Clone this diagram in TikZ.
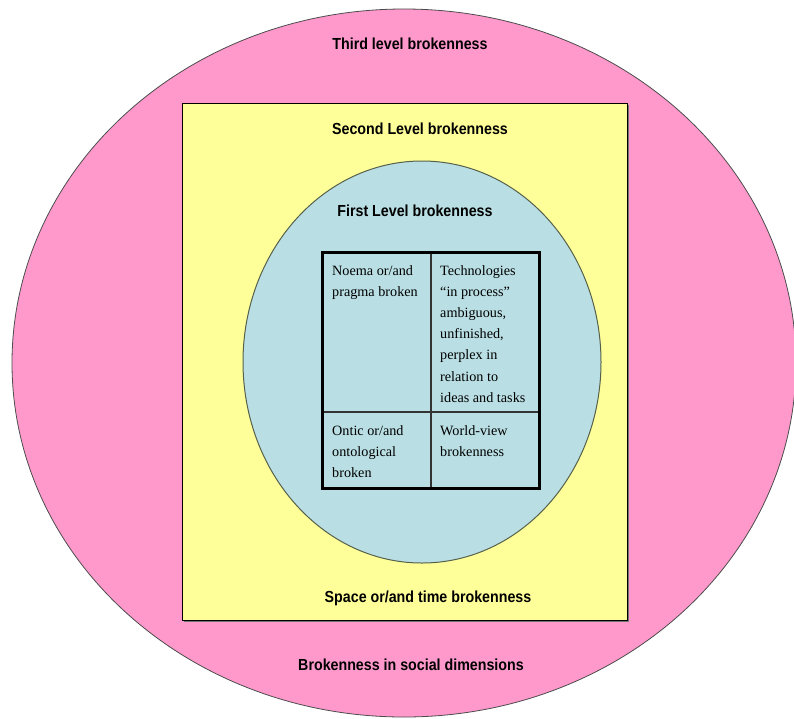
\documentclass[tikz,border=0pt]{standalone}
\usepackage{fontspec}
\setmainfont{Liberation Serif}
\newfontfamily\levelfont[FakeStretch=0.89]{Liberation Sans}
\usetikzlibrary{positioning}
\definecolor{outerpink}{HTML}{FF99CC}
\definecolor{boxyellow}{HTML}{FFFF99}
\definecolor{innerblue}{HTML}{B9DFE4}
\definecolor{rimgreen}{HTML}{56604A}
\tikzset{
  level/.style={font=\levelfont\bfseries\fontsize{16}{19}\selectfont, anchor=base, inner sep=0},
  cell/.style={font=\fontsize{14.2}{21.2}\selectfont, align=left, anchor=base west, inner sep=0},
}

\begin{document}
\begin{tikzpicture}[x=1pt,y=-1pt]
  \useasboundingbox (0,0) rectangle (794,718);
  \fill[white] (0,0) rectangle (794,718);
  % the three levels
  \draw[fill=outerpink, draw=black!70, line width=0.8pt] (404,363) ellipse [x radius=392, y radius=354];
  \fill[black!55] (184,105) rectangle (629,622);
  \draw[fill=boxyellow, line width=0.8pt] (182,103) rectangle (627,620);
  \draw[fill=innerblue, draw=rimgreen, line width=1pt] (422,362) ellipse [x radius=179, y radius=201];
  % table
  \draw[line width=1.2pt, black!80] (431,252) -- (431,488);
  \draw[line width=1.2pt, black!80] (322,412) -- (539,412);
  \draw[line width=3pt] (322,252) rectangle (539,488);
  \node (third) [level] at (410,49) {Third level brokenness};
  \node (second) [level] at (420,134) {Second Level brokenness};
  \node (first) [level] at (415,216) {First Level brokenness};
  \node (space) [level] at (428,602) {Space or/and time brokenness};
  \node (social) [level] at (411,670) {Brokenness in social dimensions};
  % cells, placed at the baseline of their last line
  \node (noema) [cell] at (332,296.2) {Noema or/and\\pragma broken};
  \node (tech) [cell] at (440,402.2) {Technologies\\``in process''\\ambiguous,\\unfinished,\\perplex in\\relation to\\ideas and tasks};
  \node (ontic) [cell] at (332,477.4) {Ontic or/and\\ontological\\broken};
  \node (world) [cell] at (440,456.2) {World-view\\brokenness};
\end{tikzpicture}
\end{document}
